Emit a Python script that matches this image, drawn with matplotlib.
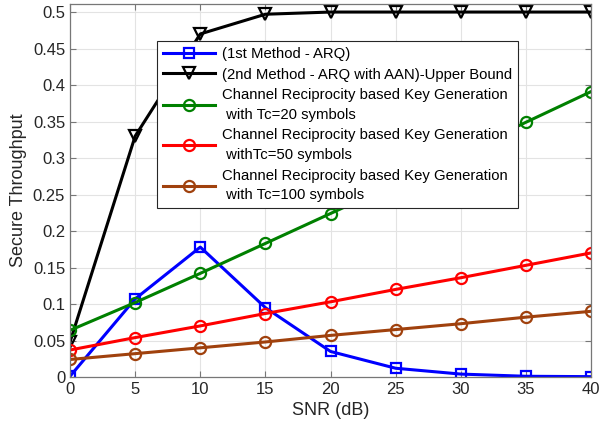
import numpy as np
import matplotlib.pyplot as plt

plt.rcParams['font.family'] = ['Liberation Sans', 'DejaVu Sans']

snr = [0, 5, 10, 15, 20, 25, 30, 35, 40]
arq = [0.001, 0.107, 0.178, 0.095, 0.035, 0.012, 0.004, 0.001, 0.0005]
arq_aan = [0.048, 0.330, 0.470, 0.497, 0.500, 0.500, 0.500, 0.500, 0.500]
key_tc20 = [0.064, 0.102, 0.142, 0.183, 0.224, 0.265, 0.306, 0.349, 0.391]
key_tc50 = [0.037, 0.054, 0.070, 0.087, 0.103, 0.120, 0.136, 0.153, 0.170]
key_tc100 = [0.024, 0.032, 0.040, 0.048, 0.057, 0.065, 0.073, 0.082, 0.090]

yticks = [0, 0.05, 0.1, 0.15, 0.2, 0.25, 0.3, 0.35, 0.4, 0.45, 0.5]
ytick_labels = ["0", "0.05", "0.1", "0.15", "0.2", "0.25", "0.3", "0.35", "0.4", "0.45", "0.5"]

labels = [
    "(1st Method - ARQ)",
    "(2nd Method - ARQ with AAN)-Upper Bound",
    "Channel Reciprocity based Key Generation\n with Tc=20 symbols",
    "Channel Reciprocity based Key Generation\n withTc=50 symbols",
    "Channel Reciprocity based Key Generation\n with Tc=100 symbols",
]

fig = plt.figure(figsize=(5.99, 4.32), dpi=100)
ax = fig.add_axes([0.1169, 0.1273, 0.8698, 0.8634])

lw = 2.2
mew = 1.6
ax.plot(snr, arq, color="blue", marker="s", mfc="none", ms=7, mew=mew, lw=lw, label=labels[0])
ax.plot(snr, arq_aan, color="black", marker="v", mfc="none", ms=9, mew=mew, lw=lw, label=labels[1])
ax.plot(snr, key_tc20, color="#008000", marker="o", mfc="none", ms=8, mew=mew, lw=lw, label=labels[2])
ax.plot(snr, key_tc50, color="red", marker="o", mfc="none", ms=8, mew=mew, lw=lw, label=labels[3])
ax.plot(snr, key_tc100, color="#A0410D", marker="o", mfc="none", ms=8, mew=mew, lw=lw, label=labels[4])

ax.set_xlim(0, 40)
ax.set_ylim(0, 0.511)
ax.set_xticks(snr)
ax.set_yticks(yticks)
ax.set_yticklabels(ytick_labels)
ax.tick_params(labelsize=12, direction="in", length=4, color="#777777",
               labelcolor="#262626", top=True, right=True)
ax.grid(True, color="#e3e3e3", lw=0.8)
ax.set_axisbelow(True)
for s in ax.spines.values():
    s.set_color("#777777")
    s.set_linewidth(0.9)

ax.set_xlabel("SNR (dB)", fontsize=13, color="#262626", labelpad=4)
ax.set_ylabel("Secure Throughput", fontsize=13, color="#262626")

leg = ax.legend(loc="upper left", bbox_to_anchor=(0.167, 0.901), fontsize=10.7,
                fancybox=False, framealpha=1, edgecolor="#262626",
                handlelength=3.5, borderpad=0.4, labelspacing=0.45, handletextpad=0.5,
                borderaxespad=0)
leg.get_frame().set_linewidth(0.8)
for t in leg.get_texts():
    t.set_linespacing(1.5)

fig.savefig("out.png", dpi=100)
